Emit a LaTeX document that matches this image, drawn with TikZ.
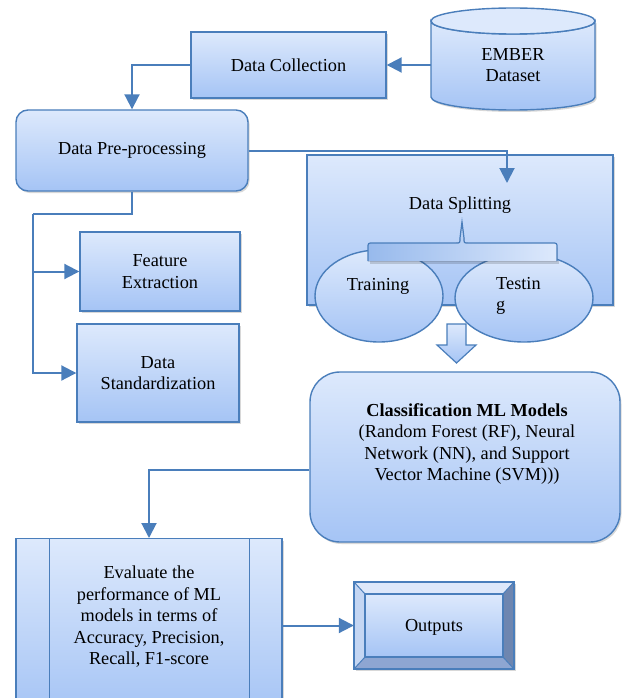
\documentclass[tikz,border=0pt]{standalone}
\usepackage{fontspec}
\setmainfont{Liberation Serif}
\usetikzlibrary{arrows.meta,shadows,shapes.geometric}
\definecolor{bord}{RGB}{74,126,187}
\definecolor{ftop}{RGB}{221,233,252}
\definecolor{fbot}{RGB}{165,196,245}
\definecolor{bevtop}{RGB}{222,232,250}
\definecolor{bevleft}{RGB}{196,214,243}
\definecolor{bevright}{RGB}{110,134,176}
\definecolor{bevbot}{RGB}{142,166,210}
\tikzset{
 txt/.style={font=\fontsize{18.3}{21.5}\selectfont, align=center, inner sep=0pt},
 shad/.style={drop shadow={shadow xshift=1.5pt, shadow yshift=-2pt, opacity=0.3}},
 boxx/.style={draw=bord, line width=1.4pt, top color=ftop, bottom color=fbot, shad, inner sep=0pt},
 conn/.style={draw=bord, line width=2pt},
 arr/.style={conn, -{Triangle[length=15pt,width=15pt]}},
}
\begin{document}
\begin{tikzpicture}[x=1pt,y=-1pt]
\useasboundingbox (0,0) rectangle (622,698);
\clip (0,0) rectangle (622,698);
\fill[white] (0,0) rectangle (622,698);

% EMBER cylinder
\path[draw=bord, line width=1.4pt, top color=ftop, bottom color=fbot, shad]
  (431,21) -- (431,97) arc[start angle=180, end angle=0, x radius=82, y radius=13]
  -- (595,21) arc[start angle=0, end angle=180, x radius=82, y radius=13] -- cycle;
\draw[draw=bord, fill=ftop, line width=1.4pt] (513,21) ellipse[x radius=82, y radius=13];
\node[txt, minimum width=164, minimum height=100] (ember) at (513,65) {EMBER\\Dataset};

% Data collection
\node[boxx, txt, minimum width=195, minimum height=66] (dc) at (288.5,65) {Data Collection};
\draw[arr] (ember.west) -- (dc.east);

% Pre-processing
\node[boxx, txt, rounded corners=12pt, minimum width=232, minimum height=81] (pre) at (132,150.5) {Data Pre-processing};
\draw[arr] (dc.west) -| (pre.north);

% Feature extraction / standardization
\node[boxx, txt, minimum width=160, minimum height=79] (fe) at (160,271.5) {Feature\\Extraction};
\node[boxx, txt, minimum width=162, minimum height=98] (std) at (158,373) {Data\\Standardization};
\coordinate (bus) at (33,214);
\draw[conn] (pre.south) -- (pre.south |- bus) -- (bus);
\draw[arr] (bus) |- (std.west);
\draw[arr] (bus |- fe.west) -- (fe.west);

% Data splitting
\node[boxx, minimum width=306, minimum height=150] (split) at (460,230) {};
\coordinate (splitin) at (507,183);
\draw[arr] (pre.east) -| (splitin);
\node[txt] (splittxt) at (460,205) {Data Splitting};
\node[ellipse, draw=bord, line width=1.4pt, top color=ftop, bottom color=fbot, minimum width=128, minimum height=92, inner sep=0pt] (train) at (379,296) {};
\node[ellipse, draw=bord, line width=1.4pt, top color=ftop, bottom color=fbot, minimum width=138, minimum height=88, inner sep=0pt] (test) at (524,298) {};
\fill[black, opacity=0.15] (370,261) rectangle (559,264);
\fill[left color=fbot!85!bord, right color=ftop]
  (368,261) -- (368,248) .. controls (368,243) .. (373,243) -- (456,243)
  .. controls (460,243) .. (460,238) -- (462,222) -- (464,238)
  .. controls (464,243) .. (468,243) -- (552,243) .. controls (557,243) .. (557,248)
  -- (557,261) -- cycle;
\draw[bord, line width=1.2pt]
  (368,261) -- (368,248) .. controls (368,243) .. (373,243) -- (456,243)
  .. controls (460,243) .. (460,238) -- (462,222) -- (464,238)
  .. controls (464,243) .. (468,243) -- (552,243) .. controls (557,243) .. (557,248)
  -- (557,261);
\node[txt] (traintxt) at (378,286) {Training};
\node[txt, align=left, anchor=north west] (testtxt) at (496,277) {Testin\\g};

% block arrow
\path[draw=bord, line width=1.2pt, top color=ftop, bottom color=fbot]
  (447,324) -- (466,324) -- (466,345) -- (476,345) -- (456.5,363) -- (437,345) -- (447,345) -- cycle;

% Classification
\node[boxx, rounded corners=30pt, minimum width=310, minimum height=170] (cls) at (465,457) {};
\node[txt] (clstxt) at (467,444) {\textbf{Classification ML Models}\\(Random Forest (RF), Neural\\Network (NN), and Support\\Vector Machine (SVM)))};

% Evaluate
\node[boxx, minimum width=266, minimum height=175, anchor=north] (eval) at (149,538) {};
\draw[bord, line width=1.4pt] ([xshift=34pt]eval.north west) -- ([xshift=34pt]eval.south west);
\draw[bord, line width=1.4pt] ([xshift=-33pt]eval.north east) -- ([xshift=-33pt]eval.south east);
\node[txt] (evaltxt) at (149,617) {Evaluate the\\performance of ML\\models in terms of\\Accuracy, Precision,\\Recall, F1-score};
\draw[arr] ([yshift=-13pt]cls.west) -| (eval.north);

% Outputs (bevel)
\node[fill=ftop, shad, minimum width=160, minimum height=87, inner sep=0pt] (out) at (434,625.5) {};
\fill[bevtop] (354,582) -- (514,582) -- (503,594) -- (365,594) -- cycle;
\fill[bevright] (514,582) -- (514,669) -- (503,657) -- (503,594) -- cycle;
\fill[bevbot] (354,669) -- (514,669) -- (503,657) -- (365,657) -- cycle;
\fill[bevleft] (354,582) -- (354,669) -- (365,657) -- (365,594) -- cycle;
\path[top color=ftop, bottom color=fbot] (365,594) rectangle (503,657);
\draw[bord, line width=1.4pt] (354,582) rectangle (514,669);
\draw[bord, line width=1.2pt] (365,594) rectangle (503,657);
\draw[bord, line width=1pt] (354,582) -- (365,594) (514,582) -- (503,594) (514,669) -- (503,657) (354,669) -- (365,657);
\node[txt] (outtxt) at (434,627) {Outputs};
\draw[arr] (eval.east |- out.west) -- (out.west);
\end{tikzpicture}
\end{document}
